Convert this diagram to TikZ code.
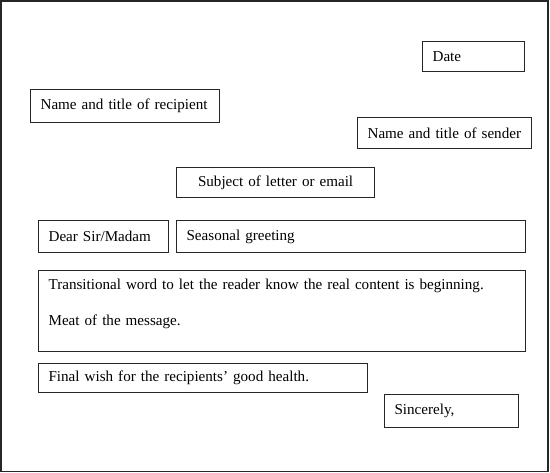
\documentclass[tikz,border=0pt]{standalone}
\usepackage{fontspec}
\setmainfont{Liberation Serif}
\usepackage{tikz}
\usetikzlibrary{positioning}
\hyphenpenalty=10000

\tikzset{
    field/.style={draw=black!85, line width=1.2pt, anchor=north west,
        inner xsep=10pt, inner ysep=0pt, align=left,
        font=\fontsize{15.1}{18}\selectfont},
    frame/.style={draw=black!85, line width=1.4pt}
}

\begin{document}
\begin{tikzpicture}[x=1pt, y=-1pt]
    \useasboundingbox (0,0) rectangle (550,473);
    \draw[frame] (1,1) rectangle (548,471.5);

    % heading
    \node[field, text width=82pt, minimum height=30pt] (date) at (422,41) {Date};
    \node[field, text width=169pt, minimum height=33pt] (recipient) at (30,89) {Name and title of recipient};
    \node[field, text width=154pt, minimum height=31pt] (sender) at (357,117) {Name and title of sender};
    \node[field, text width=178pt, minimum height=30pt, align=center] (subject) at (176,167) {Subject of letter or email};

    % salutation
    \node[field, text width=110pt, minimum height=32pt] (dear) at (38,220) {Dear Sir/Madam};
    \node[field, text width=329pt, minimum height=32pt] (greeting) at (176,220) {Seasonal greeting};

    % body
    \node[field, text width=467pt, text height=19pt, text depth=62pt] (body) at (38,270)
        {Transitional word to let the reader know the real content is beginning.\\[18pt]
         Meat of the message.};

    % closing
    \node[field, text width=309pt, minimum height=29pt] (wish) at (38,363) {Final wish for the recipients’ good health.};
    \node[field, text width=114pt, minimum height=33pt] (closing) at (384,394) {Sincerely,};
\end{tikzpicture}
\end{document}
